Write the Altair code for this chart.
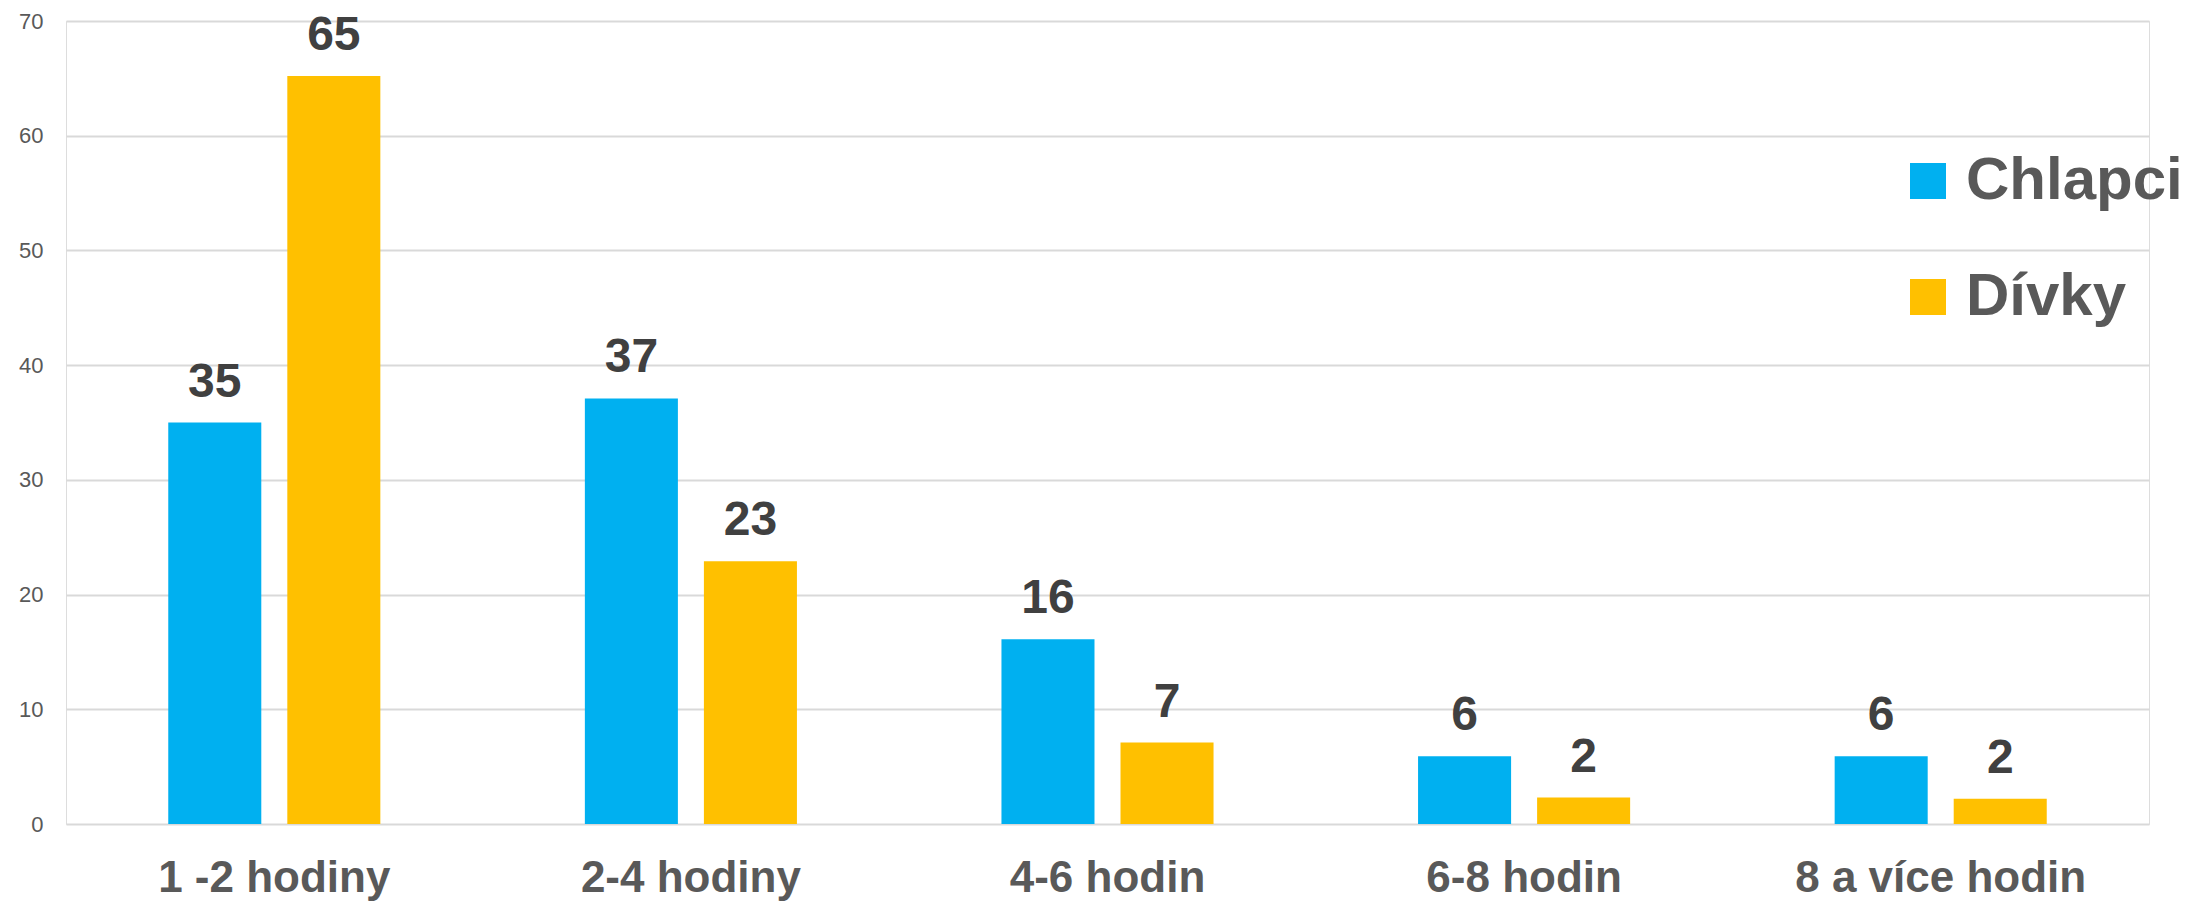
import altair as alt
import pandas as pd

categories = ["1 -2 hodiny", "2-4 hodiny", "4-6 hodin", "6-8 hodin", "8 a více hodin"]
groups = ["Chlapci", "Dívky"]
chlapci = [35.0, 37.1, 16.1, 5.9, 5.9]
divky = [65.2, 22.9, 7.1, 2.3, 2.2]
colors = ["#00B0F0", "#FFC000"]
y_ticks = [0, 10, 20, 30, 40, 50, 60, 70]

rows = []
for c, a, b in zip(categories, chlapci, divky):
    rows.append({"category": c, "gender": groups[0], "value": a})
    rows.append({"category": c, "gender": groups[1], "value": b})
df = pd.DataFrame(rows)

FONT = "Liberation Sans"

base = alt.Chart(df).encode(
    x=alt.X(
        "category:N",
        sort=categories,
        scale=alt.Scale(paddingInner=0, paddingOuter=0),
        axis=alt.Axis(
            title=None,
            labelAngle=0,
            labelFontSize=44,
            labelFontWeight="bold",
            labelColor="#595959",
            labelFont=FONT,
            labelBaseline="alphabetic",
            labelPadding=67,
            ticks=False,
            tickSize=0,
            domain=False,
            grid=False,
            labelLimit=1000,
        ),
    ),
    xOffset=alt.XOffset(
        "gender:N",
        sort=groups,
        scale=alt.Scale(paddingInner=0.2185, paddingOuter=0.859),
    ),
    y=alt.Y(
        "value:Q",
        scale=alt.Scale(domain=[0, 70], nice=False),
        axis=alt.Axis(
            title=None,
            values=y_ticks,
            labelFontSize=22,
            labelColor="#595959",
            labelFont=FONT,
            labelPadding=23,
            ticks=False,
            tickSize=0,
            domain=False,
            grid=True,
            gridColor="#D9D9D9",
            gridWidth=2,
        ),
    ),
)

bars = base.mark_bar().encode(
    color=alt.Color(
        "gender:N",
        sort=groups,
        scale=alt.Scale(domain=groups, range=colors),
        legend=alt.Legend(
            title=None,
            orient="none",
            legendX=1832,
            legendY=130,
            symbolType="square",
            symbolSize=1296,
            symbolStrokeWidth=0,
            symbolOpacity=1,
            labelFontSize=60,
            labelFontWeight="bold",
            labelColor="#595959",
            labelFont=FONT,
            labelOffset=8,
            rowPadding=56,
            padding=0,
            labelLimit=1000,
        ),
    )
)

labels = base.mark_text(
    baseline="alphabetic",
    align="center",
    dy=-26,
    fontSize=48,
    fontWeight="bold",
    color="#404040",
    font=FONT,
).encode(text=alt.Text("value:Q", format=".0f"))

chart = (
    alt.layer(bars, labels)
    .properties(
        width=2083,
        height=803,
        autosize=alt.AutoSizeParams(type="none"),
        padding={"left": 58, "top": 13, "right": 40, "bottom": 77},
    )
    .configure_view(stroke=None)
    .configure(background="white")
)

chart.save("out.html", embed_options={"renderer": "svg", "actions": False})
